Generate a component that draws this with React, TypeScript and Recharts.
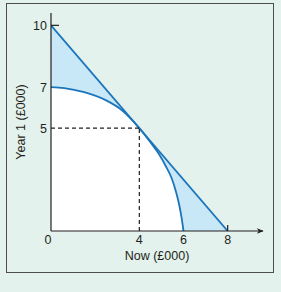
import { ComposedChart, Area, Line, XAxis, YAxis, ReferenceLine, Label } from "recharts";

// budget line: straight from (0,10) to (8,0)
const budgetLine = [
  { x: 0, y: 10 },
  { x: 8, y: 0 },
];

// opportunity curve
const curve = [
  { x: 0, y: 7 },
  { x: 0.6, y: 6.95 },
  { x: 1.5, y: 6.75 },
  { x: 2.5, y: 6.35 },
  { x: 3.2, y: 5.88 },
  { x: 3.6, y: 5.48 },
  { x: 4, y: 5 },
  { x: 4.5, y: 4.32 },
  { x: 4.9, y: 3.72 },
  { x: 5.2, y: 3.15 },
  { x: 5.45, y: 2.6 },
  { x: 5.65, y: 1.95 },
  { x: 5.8, y: 1.3 },
  { x: 5.92, y: 0.6 },
  { x: 6, y: 0 },
];

const xTicks = [0, 4, 6, 8];
const yTicks = [5, 7, 10];
const point = { x: 4, y: 5 };

const BLUE = "#1b75bb";
const FILL = "#c8e7f7";
const BG = "#e3f2ec";
const AXIS = "#231f20";
const FONT = "'Liberation Sans', Arial, sans-serif";
const FS = 12.5;

const XTick = (props: any) => {
  const { x, y, payload } = props;
  const v = payload.value;
  return (
    <g>
      {v === 8 && <line x1={x} x2={x} y1={y - 3} y2={y - 9} stroke={AXIS} strokeWidth={1.2} />}
      <text x={v === 0 ? x - 3 : x} y={y + 10} textAnchor="middle" fontSize={FS} fontFamily={FONT} fill={AXIS}>
        {v}
      </text>
    </g>
  );
};

const YTick = (props: any) => {
  const { x, y, payload } = props;
  const v = payload.value;
  return (
    <g>
      {v === 10 && <line x1={x + 4} x2={x + 12} y1={y} y2={y} stroke={AXIS} strokeWidth={1.2} />}
      <text x={x} y={y + 4.5} textAnchor="end" fontSize={FS} fontFamily={FONT} fill={AXIS}>
        {v}
      </text>
    </g>
  );
};

export default function App() {
  return (
    <div style={{ position: "absolute", left: 0, top: 0, width: 281, height: 292, background: BG }}>
      <div
        style={{
          position: "absolute",
          left: 6,
          top: 3,
          width: 268,
          height: 270,
          border: "1.5px solid #4d4d4d",
          boxSizing: "border-box",
        }}
      />
      <div style={{ position: "absolute", left: 0, top: 0 }}>
        <ComposedChart width={281} height={292} margin={{ top: 13, right: 18, bottom: 31, left: 0 }}>
          <defs>
            <marker id="arrow" viewBox="0 0 10 10" refX="9" refY="5" markerWidth="7" markerHeight="7" orient="auto" markerUnits="userSpaceOnUse">
              <path d="M0,1 L10,5 L0,9 L3,5 z" fill={AXIS} />
            </marker>
          </defs>
          <XAxis
            type="number"
            dataKey="x"
            domain={[0, 9.6]}
            ticks={xTicks}
            allowDataOverflow
            height={30}
            tickLine={false}
            tickSize={0}
            tickMargin={3}
            axisLine={{ stroke: AXIS, strokeWidth: 1.2, markerEnd: "url(#arrow)" }}
            tick={<XTick />}
          >
            <Label value="Now (£000)" position="insideBottom" offset={1} fontSize={FS} fontFamily={FONT} fill={AXIS} />
          </XAxis>
          <YAxis
            type="number"
            dataKey="y"
            domain={[0, 10.6]}
            ticks={yTicks}
            allowDataOverflow
            width={51}
            tickLine={false}
            tickSize={0}
            tickMargin={4}
            axisLine={{ stroke: AXIS, strokeWidth: 1.2 }}
            tick={<YTick />}
          >
            <Label
              content={(p: any) => {
                const vb = p.viewBox;
                const cx = 21;
                const cy = vb.y + vb.height / 2;
                return (
                  <text x={cx} y={cy} transform={`rotate(-90 ${cx} ${cy})`} textAnchor="middle" dominantBaseline="central" fontSize={FS} fontFamily={FONT} fill={AXIS}>
                    Year 1 (£000)
                  </text>
                );
              }}
            />
          </YAxis>
          <Area data={budgetLine} dataKey="y" type="linear" stroke="none" fill={FILL} fillOpacity={1} isAnimationActive={false} />
          <Area data={curve} dataKey="y" type="monotone" stroke={BLUE} strokeWidth={1.8} fill="#ffffff" fillOpacity={1} isAnimationActive={false} />
          <Line data={budgetLine} dataKey="y" type="linear" stroke={BLUE} strokeWidth={1.8} dot={false} isAnimationActive={false} />
          <ReferenceLine segment={[{ x: 0, y: point.y }, { x: point.x, y: point.y }]} stroke={AXIS} strokeWidth={1.2} strokeDasharray="4 3" />
          <ReferenceLine segment={[{ x: point.x, y: 0 }, { x: point.x, y: point.y }]} stroke={AXIS} strokeWidth={1.2} strokeDasharray="4 3" />
        </ComposedChart>
      </div>
    </div>
  );
}
